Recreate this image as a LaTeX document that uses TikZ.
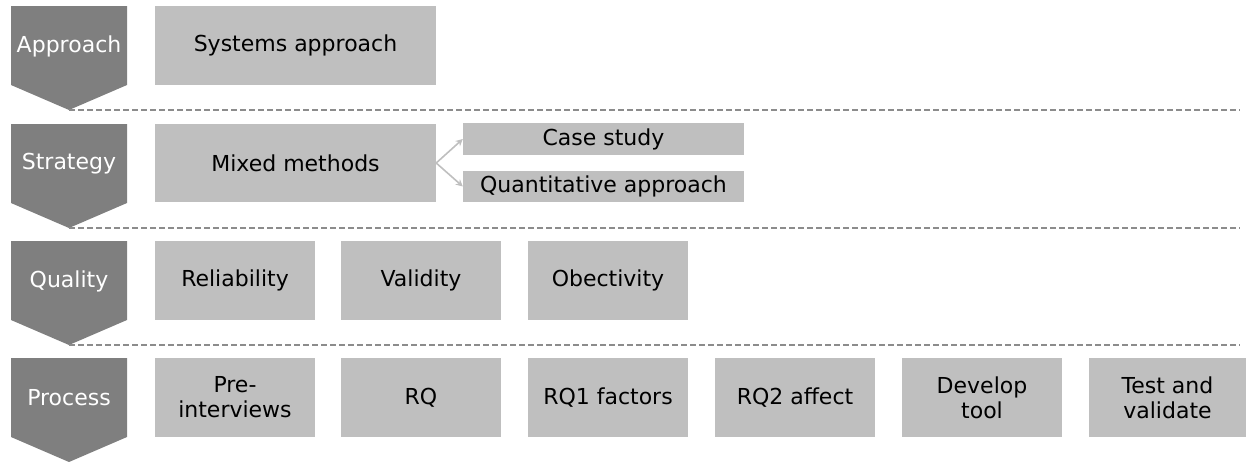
\documentclass[tikz,border=0pt]{standalone}
\usepackage{fontspec}
\setmainfont{DejaVu Sans}
\usetikzlibrary{arrows.meta}
\definecolor{chevgray}{HTML}{7F7F7F}
\definecolor{boxgray}{HTML}{BFBFBF}
\definecolor{linegray}{HTML}{8C8C8C}
\begin{document}
\begin{tikzpicture}[x=1pt,y=-1pt,
  lbl/.style={font=\fontsize{22}{25}\selectfont, text=white, align=center},
  item/.style={fill=boxgray, draw=none, font=\fontsize{22}{25}\selectfont, align=center, inner sep=0pt},
  sep/.style={draw=linegray, line width=1.4pt, dash pattern=on 6pt off 3pt},
  link/.style={draw=boxgray, line width=1.6pt, -{Stealth[length=7pt,width=7pt]}}
]
\useasboundingbox (0,0) rectangle (1246,461);

% chevron markers on the left, one per row
\foreach \t/\name/\txt in {6/ap/Approach, 124/st/Strategy, 241/qu/Quality, 358/pr/Process}{
  \fill[chevgray] (11,\t) -- (127,\t) -- (127,\t+79) -- (69,\t+104) -- (11,\t+79) -- cycle;
  \node[lbl] (\name) at (69,\t+40) {\txt};
}

% dashed separators between rows
\coordinate (s1a) at (69,110);  \coordinate (s1b) at (1240,110);
\coordinate (s2a) at (69,228);  \coordinate (s2b) at (1240,228);
\coordinate (s3a) at (69,345);  \coordinate (s3b) at (1240,345);
\draw[sep] (s1a) -- (s1b);
\draw[sep] (s2a) -- (s2b);
\draw[sep] (s3a) -- (s3b);

% row 1
\node[item, minimum width=281pt, minimum height=79pt] (sys) at (295.5,45.5) {Systems approach};

% row 2
\node[item, minimum width=281pt, minimum height=78pt] (mm) at (295.5,163) {Mixed methods};
\node[item, minimum width=281pt, minimum height=32pt] (cs) at (603.5,139) {Case study};
\node[item, minimum width=281pt, minimum height=31pt] (qa) at (603.5,186.5) {Quantitative approach};
\draw[link] (mm.east) -- (cs.west);
\draw[link] (mm.east) -- (qa.west);

% row 3
\node[item, minimum width=160pt, minimum height=79pt] (rel) at (235,280.5) {Reliability};
\node[item, minimum width=160pt, minimum height=79pt] (val) at (421,280.5) {Validity};
\node[item, minimum width=160pt, minimum height=79pt] (obj) at (608,280.5) {Obectivity};

% row 4
\node[item, minimum width=160pt, minimum height=79pt] (p1) at (235,397.5) {Pre-\\interviews};
\node[item, minimum width=160pt, minimum height=79pt] (p2) at (421,397.5) {RQ};
\node[item, minimum width=160pt, minimum height=79pt] (p3) at (608,397.5) {RQ1 factors};
\node[item, minimum width=160pt, minimum height=79pt] (p4) at (795,397.5) {RQ2 affect};
\node[item, minimum width=160pt, minimum height=79pt] (p5) at (982,397.5) {Develop\\tool};
\node[item, minimum width=157pt, minimum height=79pt] (p6) at (1167.5,397.5) {Test and\\validate};
\end{tikzpicture}
\end{document}
